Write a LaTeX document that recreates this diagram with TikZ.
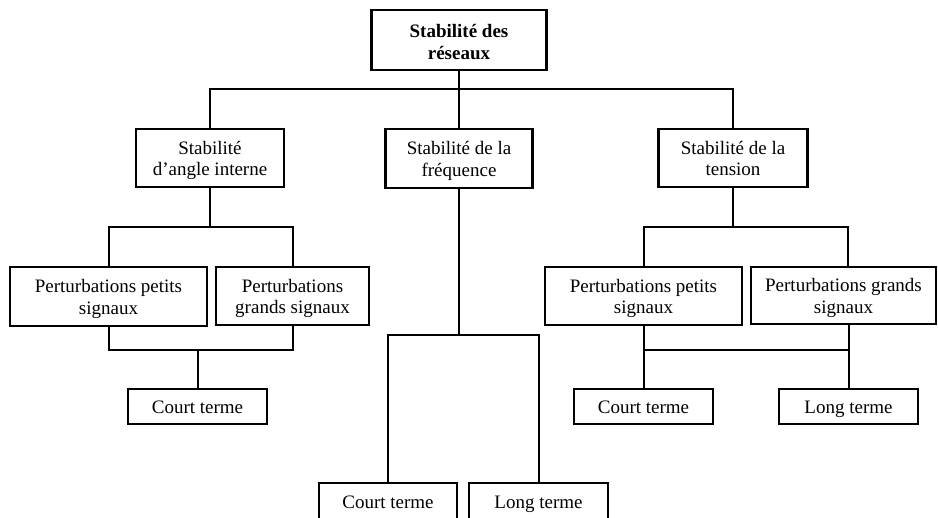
\documentclass[tikz,border=0pt]{standalone}
\usepackage{fontspec}
\setmainfont{Liberation Serif}
\begin{document}
\begin{tikzpicture}[x=1pt,y=-1pt,
  box/.style={draw=black,line width=2.4pt,rectangle,inner sep=0pt,align=center,
    font=\fontsize{19}{21.5}\selectfont,text height=37.8pt,text depth=2pt},
  oneline/.style={text height=15pt,text depth=1pt},
  conn/.style={draw=black,line width=2pt}]
\useasboundingbox[fill=white] (0,0) rectangle (938,518);
% level 0
\node[box,text height=40.2pt,minimum width=175pt,minimum height=60pt,font=\fontsize{19}{21.5}\selectfont\bfseries] (root) at (459,40) {Stabilité des\\réseaux};
% level 1
\node[box,minimum width=148pt,minimum height=58pt] (angle) at (210,158) {Stabilité\\d’angle interne};
\node[box,minimum width=147pt,minimum height=59pt] (freq) at (459,158.5) {Stabilité de la\\fréquence};
\node[box,minimum width=149pt,minimum height=58pt] (tension) at (733,158) {Stabilité de la\\tension};
% level 2 left
\node[box,minimum width=197pt,minimum height=59pt] (LP) at (108.5,296.5) {Perturbations petits\\signaux};
\node[box,minimum width=153pt,minimum height=58pt] (LG) at (292.5,296) {Perturbations\\grands signaux};
\node[box,oneline,minimum width=139pt,minimum height=35pt] (LC) at (197.5,406.5) {Court terme};
% level 2 right
\node[box,minimum width=197pt,minimum height=58pt] (RP) at (643.5,296) {Perturbations petits\\signaux};
\node[box,minimum width=185pt,minimum height=57pt] (RG) at (843.5,295.5) {Perturbations grands\\signaux};
\node[box,oneline,minimum width=139pt,minimum height=35pt] (RC) at (643.5,406.5) {Court terme};
\node[box,oneline,minimum width=139pt,minimum height=35pt] (RL) at (848.5,406.5) {Long terme};
% middle bottom
\node[box,oneline,minimum width=138pt,minimum height=38pt] (MC) at (388,502) {Court terme};
\node[box,oneline,minimum width=139pt,minimum height=38pt] (ML) at (538.5,502) {Long terme};
% junction coordinates
\coordinate (bar1) at (459,89);
\coordinate (bar2) at (210,227);
\coordinate (bar3) at (197.5,350);
\coordinate (bar4) at (459,335);
\coordinate (bar5) at (733,227);
\coordinate (bar6) at (643.5,350);
% connectors
\draw[conn] (root.south) -- (freq.north);
\draw[conn] (angle.north) |- (bar1) -| (tension.north);
\draw[conn] (angle.south) -- (bar2);
\draw[conn] (LP.north) |- (bar2) -| (LG.north);
\draw[conn] (LP.south) |- (bar3) -| (LG.south);
\draw[conn] (bar3) -- (LC.north);
\draw[conn] (freq.south) -- (bar4);
\draw[conn] (MC.north) |- (bar4) -| (ML.north);
\draw[conn] (tension.south) -- (bar5);
\draw[conn] (RP.north) |- (bar5) -| ([xshift=4.5pt]RG.north);
\draw[conn] (RP.south) -- (RC.north);
\draw[conn] ([xshift=5pt]RG.south) -- (RL.north);
\draw[conn] (bar6) -- ([xshift=5pt]RG.south |- bar6);
\end{tikzpicture}
\end{document}
